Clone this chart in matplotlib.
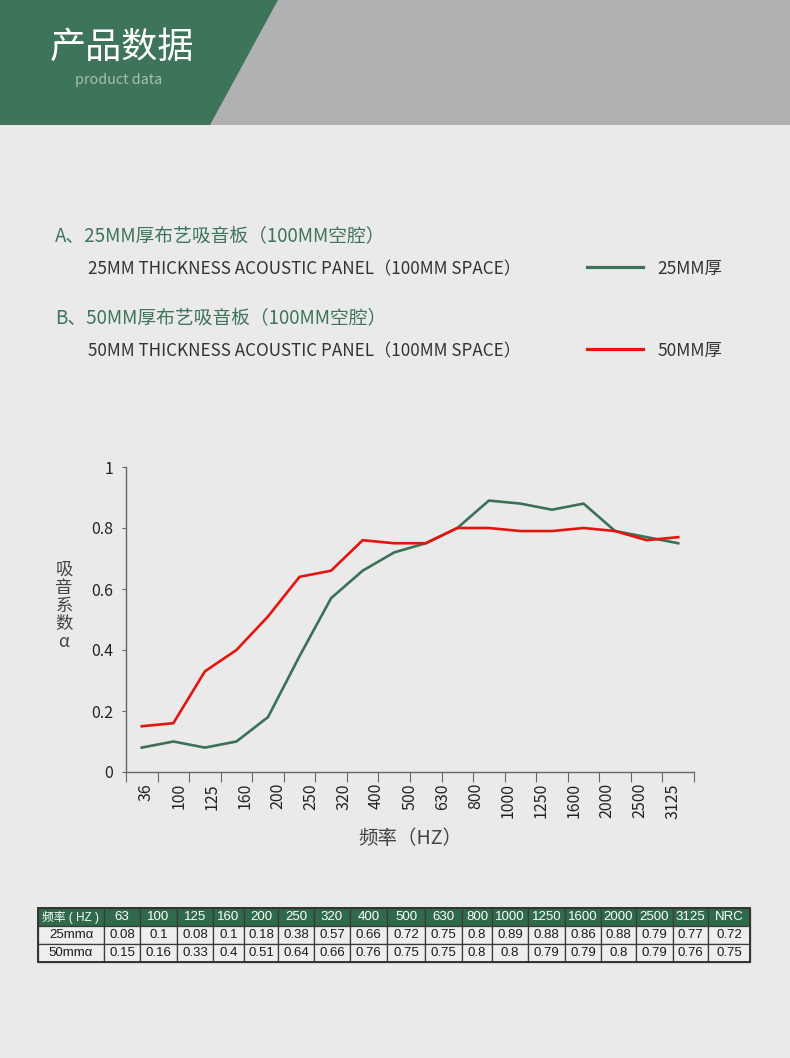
import matplotlib
matplotlib.use('Agg')
import matplotlib.pyplot as plt
from matplotlib.patches import Polygon, Rectangle
import numpy as np

plt.rcParams['font.family'] = ['Noto Sans CJK SC', 'DejaVu Sans']

## chart data (18 points each)
green_vals = [0.08, 0.1, 0.08, 0.1, 0.18, 0.38, 0.57, 0.66, 0.72, 0.75,
              0.8, 0.89, 0.88, 0.86, 0.88, 0.79, 0.77, 0.75]
red_vals = [0.15, 0.16, 0.33, 0.4, 0.51, 0.64, 0.66, 0.76, 0.75, 0.75,
            0.8, 0.8, 0.79, 0.79, 0.8, 0.79, 0.76, 0.77]
freq_labels = ['36', '100', '125', '160', '200', '250', '320', '400', '500',
               '630', '800', '1000', '1250', '1600', '2000', '2500', '3125']
y_ticks = [0, 0.2, 0.4, 0.6, 0.8, 1]
y_labels = ['0', '0.2', '0.4', '0.6', '0.8', '1']

## table data
table_head = ['频率 ( HZ )', '63', '100', '125', '160', '200', '250', '320', '400',
              '500', '630', '800', '1000', '1250', '1600', '2000', '2500',
              '3125', 'NRC']
row_25 = ['25mmα', '0.08', '0.1', '0.08', '0.1', '0.18', '0.38', '0.57', '0.66',
          '0.72', '0.75', '0.8', '0.89', '0.88', '0.86', '0.88', '0.79', '0.77',
          '0.72']
row_50 = ['50mmα', '0.15', '0.16', '0.33', '0.4', '0.51', '0.64', '0.66', '0.76',
          '0.75', '0.75', '0.8', '0.8', '0.79', '0.79', '0.8', '0.79', '0.76',
          '0.75']

GREEN = '#3E745A'
LINE_GREEN = '#3A7157'
LINE_RED = '#E5140F'

W, H = 790, 1058
fig = plt.figure(figsize=(7.9, 10.58), dpi=100)
fig.patch.set_facecolor('#EAEAEA')

# background layer in pixel coords
bg = fig.add_axes([0, 0, 1, 1], zorder=0)
bg.set_xlim(0, W)
bg.set_ylim(H, 0)
bg.axis('off')

# header band
bg.add_patch(Rectangle((0, 0), W, 125, color='#B1B1B1', lw=0))
bg.add_patch(Polygon([(0, 0), (278, 0), (210, 125), (0, 125)], color=GREEN, lw=0))
bg.text(50, 48, '产品数据', color='white', fontsize=26, va='center', ha='left')
bg.text(75, 80, 'product data', color='#A6C1B3', fontsize=10.3, va='center', ha='left')

# descriptions
bg.text(55, 237, 'A、25MM厚布艺吸音板（100MM空腔）', color=GREEN, fontsize=13.5,
        weight='medium', va='center', ha='left')
bg.text(88, 269, '25MM THICKNESS ACOUSTIC PANEL（100MM SPACE）', color='#333333',
        fontsize=12.3, va='center', ha='left')
bg.text(55, 319, 'B、50MM厚布艺吸音板（100MM空腔）', color=GREEN, fontsize=13.5,
        weight='medium', va='center', ha='left')
bg.text(88, 351, '50MM THICKNESS ACOUSTIC PANEL（100MM SPACE）', color='#333333',
        fontsize=12.3, va='center', ha='left')

# legend
bg.plot([587, 643], [267, 267], color=LINE_GREEN, lw=2.3)
bg.text(657, 269, '25MM厚', color='#333333', fontsize=12.5, va='center', ha='left')
bg.plot([587, 643], [349, 349], color=LINE_RED, lw=2.3)
bg.text(657, 351, '50MM厚', color='#333333', fontsize=12.5, va='center', ha='left')

# axis titles
bg.text(64, 606, '吸\n音\n系\n数\nα', color='#444444', fontsize=12.5,
        va='center', ha='center', linespacing=1.0)
bg.text(410, 838, '频率（HZ）', color='#444444', fontsize=14, va='center', ha='center')

# chart
ax = fig.add_axes([126 / W, (H - 772) / H, (694 - 126) / W, (772 - 467) / H], zorder=1)
ax.set_facecolor('none')
x = np.arange(len(green_vals))
ax.plot(x, green_vals, color=LINE_GREEN, lw=1.9)
ax.plot(x, red_vals, color=LINE_RED, lw=1.9)
ax.set_xlim(-0.5, len(green_vals) - 0.5)
ax.set_ylim(0, 1)
for s in ['top', 'right']:
    ax.spines[s].set_visible(False)
for s in ['left', 'bottom']:
    ax.spines[s].set_color('#666666')
    ax.spines[s].set_linewidth(1)

ax.set_yticks(y_ticks)
ax.set_yticklabels(y_labels)
ax.tick_params(axis='y', length=3, color='#666666', pad=6, labelsize=11.5,
               labelcolor='#222222')

# boundaries as major ticks, labels as minor ticks
ax.set_xticks(np.arange(len(green_vals) + 1) - 0.5)
ax.set_xticklabels([])
ax.tick_params(axis='x', which='major', length=7, color='#666666', direction='out')
label_pos = np.linspace(0.13, 16.84, len(freq_labels))
ax.set_xticks(label_pos, minor=True)
ax.set_xticklabels(freq_labels, minor=True, rotation=90)
ax.tick_params(axis='x', which='minor', length=0, pad=8, labelsize=11.5,
               labelcolor='#222222')

# table
col_edges = [38, 104, 140, 177, 213, 244, 278, 314, 350, 387, 425, 462, 492,
             528, 565, 601, 636, 673, 708, 750]
row_edges = [908, 926, 944, 962]
rows = [table_head, row_25, row_50]
for r, row in enumerate(rows):
    y0, y1 = row_edges[r], row_edges[r + 1]
    for c, val in enumerate(row):
        x0, x1 = col_edges[c], col_edges[c + 1]
        fc = '#2F6A4B' if r == 0 else '#EEEEEE'
        bg.add_patch(Rectangle((x0, y0), x1 - x0, y1 - y0, facecolor=fc,
                               edgecolor='#3A3A3A', lw=0.9))
        fs = 8.5 if (c == 0 and r == 0) else 9.5
        bg.text((x0 + x1) / 2, (y0 + y1) / 2 + 0.5, val,
                color='white' if r == 0 else '#1A1A1A', fontsize=fs,
                family=['Liberation Sans', 'Noto Sans CJK SC'],
                ha='center', va='center')
bg.add_patch(Rectangle((col_edges[0], row_edges[0]), col_edges[-1] - col_edges[0],
                       row_edges[-1] - row_edges[0], fill=False,
                       edgecolor='#333333', lw=1.4))

fig.savefig('out.png', dpi=100, facecolor=fig.get_facecolor())
